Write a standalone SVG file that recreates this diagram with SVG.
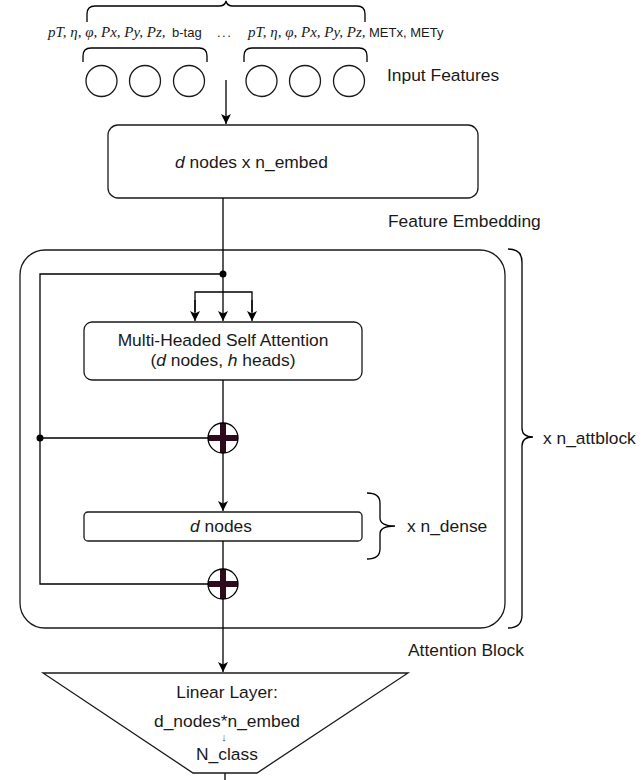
<svg xmlns="http://www.w3.org/2000/svg" width="643" height="780" viewBox="0 0 643 780">
<defs>
<marker id="arr" viewBox="0 0 10 10" refX="10" refY="5" markerWidth="10" markerHeight="10" markerUnits="userSpaceOnUse" orient="auto">
<path d="M0,0 L10,5 L0,10 L2.5,5 z" fill="#000"/>
</marker>
</defs>
<style>
.ln{fill:none;stroke:#000;stroke-width:1.3}
.box{fill:#fff;stroke:#1a1a1a;stroke-width:1.3}
.t{font-family:"Liberation Sans",Arial,sans-serif;font-size:17.4px;fill:#1a1a1a}
.m{font-family:"Liberation Serif","Times New Roman",serif;font-style:italic;font-size:15px;fill:#1a1a1a}
.s{font-family:"Liberation Sans",Arial,sans-serif;font-size:13px;fill:#1a1a1a}
.plus{stroke:#2e0b1c;stroke-width:6}
</style>
<rect width="643" height="780" fill="#fff"/>

<g id="input-features">
<path class="ln" d="M87,22 V14 Q87,6 95,6 H219 Q225,6 226,1 Q227,6 233,6 H357 Q365,6 365,14 V22"/>
<text y="37"><tspan class="m" x="48">pT, η, φ, Px, Py, Pz,</tspan><tspan class="s" x="172">b-tag</tspan></text>
<text class="s" x="217" y="37" letter-spacing="1.5">...</text>
<text y="37"><tspan class="m" x="248">pT, η, φ, Px, Py, Pz,</tspan><tspan class="s" x="369">METx, METy</tspan></text>
<path class="ln" d="M83,62 V56 Q83,48 91,48 H199 Q207,48 207,56 V62"/>
<path class="ln" d="M244,62 V56 Q244,48 252,48 H359 Q367,48 367,56 V62"/>
<circle class="box" cx="101.5" cy="81" r="15.5"/>
<circle class="box" cx="145" cy="81" r="15.5"/>
<circle class="box" cx="189" cy="81" r="15.5"/>
<circle class="box" cx="261.5" cy="81" r="15.5"/>
<circle class="box" cx="305" cy="81" r="15.5"/>
<circle class="box" cx="349" cy="81" r="15.5"/>
<text class="t" x="387" y="81">Input Features</text>
</g>

<g id="embedding">
<rect class="box" x="108" y="125" width="370" height="73" rx="10"/>
<text class="t" x="251.5" y="168" text-anchor="middle"><tspan font-style="italic">d</tspan> nodes x n_embed</text>
<text class="t" x="388" y="227">Feature Embedding</text>
</g>

<g id="attention-block">
<rect x="20" y="250" width="485" height="378" rx="25" style="fill:none;stroke:#1a1a1a;stroke-width:1.3"/>
<path class="ln" d="M508,249 Q522,249 522,262 V428 Q522,437 533,437 Q522,437 522,446 V615 Q522,628 508,628"/>
<text class="t" x="543" y="444">x n_attblock</text>
<text class="t" x="408" y="656">Attention Block</text>
</g>

<g id="mhsa">
<rect class="box" x="84" y="322" width="278" height="58" rx="8"/>
<text class="t" x="223" y="346" text-anchor="middle">Multi-Headed Self Attention</text>
<text class="t" x="223" y="366" text-anchor="middle">(<tspan font-style="italic">d</tspan> nodes, <tspan font-style="italic">h</tspan> heads)</text>
</g>

<g id="dense">
<rect class="box" x="84" y="512" width="278" height="29" rx="4"/>
<text class="t" x="221" y="532" text-anchor="middle"><tspan font-style="italic">d</tspan> nodes</text>
<path class="ln" d="M367,493 Q380,493 380,503 V518 Q380,526 395,526 Q380,526 380,534 V549 Q380,559 367,559"/>
<text class="t" x="407" y="532">x n_dense</text>
</g>

<g id="connectors">
<line class="ln" x1="226" y1="80" x2="226" y2="124" marker-end="url(#arr)"/>
<line class="ln" x1="223" y1="198" x2="223" y2="321" marker-end="url(#arr)"/>
<path class="ln" d="M195,312 V292 H252 V312"/>
<line class="ln" x1="252" y1="300" x2="252" y2="321" marker-end="url(#arr)"/>
<line class="ln" x1="195" y1="300" x2="195" y2="321" marker-end="url(#arr)"/>
<path class="ln" d="M223,274 H40 V584 H208"/>
<line class="ln" x1="40" y1="438" x2="208" y2="438"/>
<line class="ln" x1="223" y1="380" x2="223" y2="423"/>
<line class="ln" x1="223" y1="453" x2="223" y2="511" marker-end="url(#arr)"/>
<line class="ln" x1="223" y1="541" x2="223" y2="569"/>
<line class="ln" x1="223" y1="599" x2="223" y2="672" marker-end="url(#arr)"/>
<line class="ln" x1="225" y1="773" x2="225" y2="780"/>
<circle cx="223" cy="274" r="3.5" fill="#000"/>
<circle cx="40" cy="438" r="3.5" fill="#000"/>
</g>

<g id="add1">
<circle cx="223" cy="438" r="15" fill="#fff"/>
<line class="plus" x1="208" y1="438" x2="238" y2="438"/>
<line class="plus" x1="223" y1="423" x2="223" y2="453"/>
<circle cx="223" cy="438" r="15" fill="none" stroke="#000" stroke-width="1.3"/>
</g>

<g id="add2">
<circle cx="223" cy="584" r="15" fill="#fff"/>
<line class="plus" x1="208" y1="584" x2="238" y2="584"/>
<line class="plus" x1="223" y1="569" x2="223" y2="599"/>
<circle cx="223" cy="584" r="15" fill="none" stroke="#000" stroke-width="1.3"/>
</g>

<g id="linear">
<polygon class="box" points="43,673 408,673 257,773 193,773"/>
<text class="t" x="227" y="698" text-anchor="middle">Linear Layer:</text>
<text class="t" x="227" y="727" text-anchor="middle">d_nodes*n_embed</text>
<text x="224" y="741" text-anchor="middle" style="font-family:'Liberation Sans',Arial,sans-serif;font-size:11px;fill:#555">↓</text>
<text class="t" x="227" y="760" text-anchor="middle">N_class</text>
</g>
</svg>
